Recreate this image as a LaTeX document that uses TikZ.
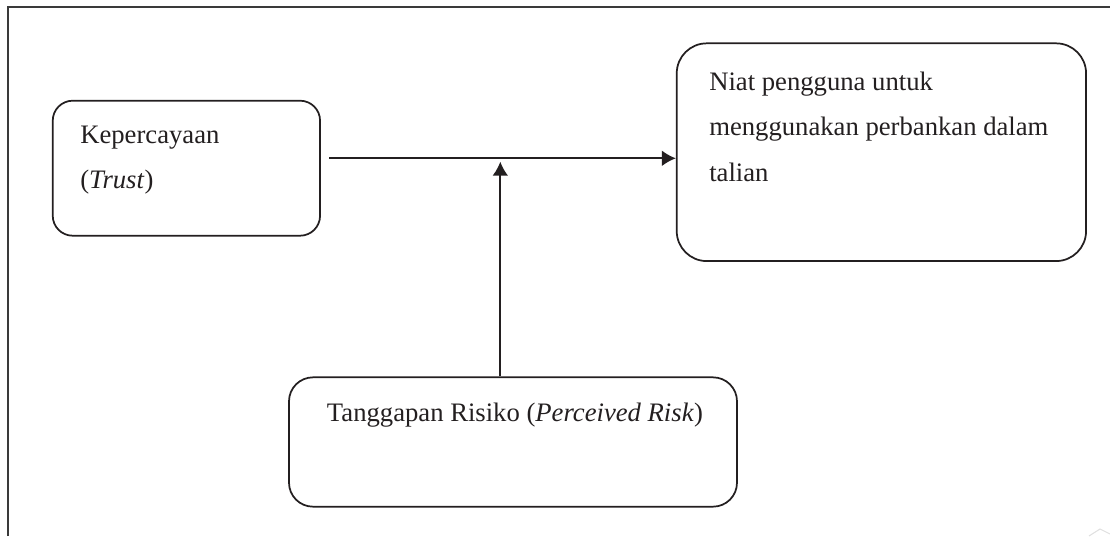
\documentclass[tikz,border=0pt]{standalone}
\usepackage{fontspec}
\setmainfont{Liberation Serif}
\usetikzlibrary{arrows.meta}
\definecolor{ink}{HTML}{231F20}
\definecolor{framegray}{HTML}{3A3A3A}
\begin{document}
\begin{tikzpicture}[x=0.75pt,y=-0.75pt,
  box/.style={draw=ink,line width=1.3pt,inner sep=0pt},
  txt/.style={anchor=base west,inner sep=0pt,text=ink,font=\fontsize{20}{24}\selectfont},
  link/.style={draw=ink,line width=1.3pt,-{Latex[length=10.5pt,width=11.8pt]}}]
\useasboundingbox (0,0) rectangle (1110,536);
% page frame: top and left rules
\draw[framegray,line width=1.5pt] (8,536) -- (8,7) -- (1110,7);
% boxes
\node[box,rounded corners=15pt,minimum width=200.5pt,minimum height=101.25pt] (trust) at (186.4,168.2) {};
\node[box,rounded corners=22.5pt,minimum width=307pt,minimum height=163.3pt] (intent) at (881.4,152.2) {};
\node[box,rounded corners=18pt,minimum width=336pt,minimum height=97pt] (risk) at (513,442) {};
% texts
\node[txt] (t1) at (80,143.3) {Kepercayaan};
\node[txt] (t2) at (80,188) {(\textit{Trust})};
\node[txt] (i1) at (709,90) {Niat pengguna untuk};
\node[txt] (i2) at (709,135.7) {menggunakan perbankan dalam};
\node[txt] (i3) at (709,181.7) {talian};
\node[txt] (r1) at (326.7,421) {Tanggapan Risiko (\textit{Perceived Risk})};
% connectors
\coordinate (hstart) at (329,158.3);
\coordinate (vtip) at (500.3,161.7);
\draw[link] (hstart) -- (hstart -| intent.west);
\draw[link] (vtip |- risk.north) -- (vtip);
% faint corner mark
\draw[black!12,line width=0.8pt] (1089,536) -- (1100,529) -- (1110,534);
\end{tikzpicture}
\end{document}
